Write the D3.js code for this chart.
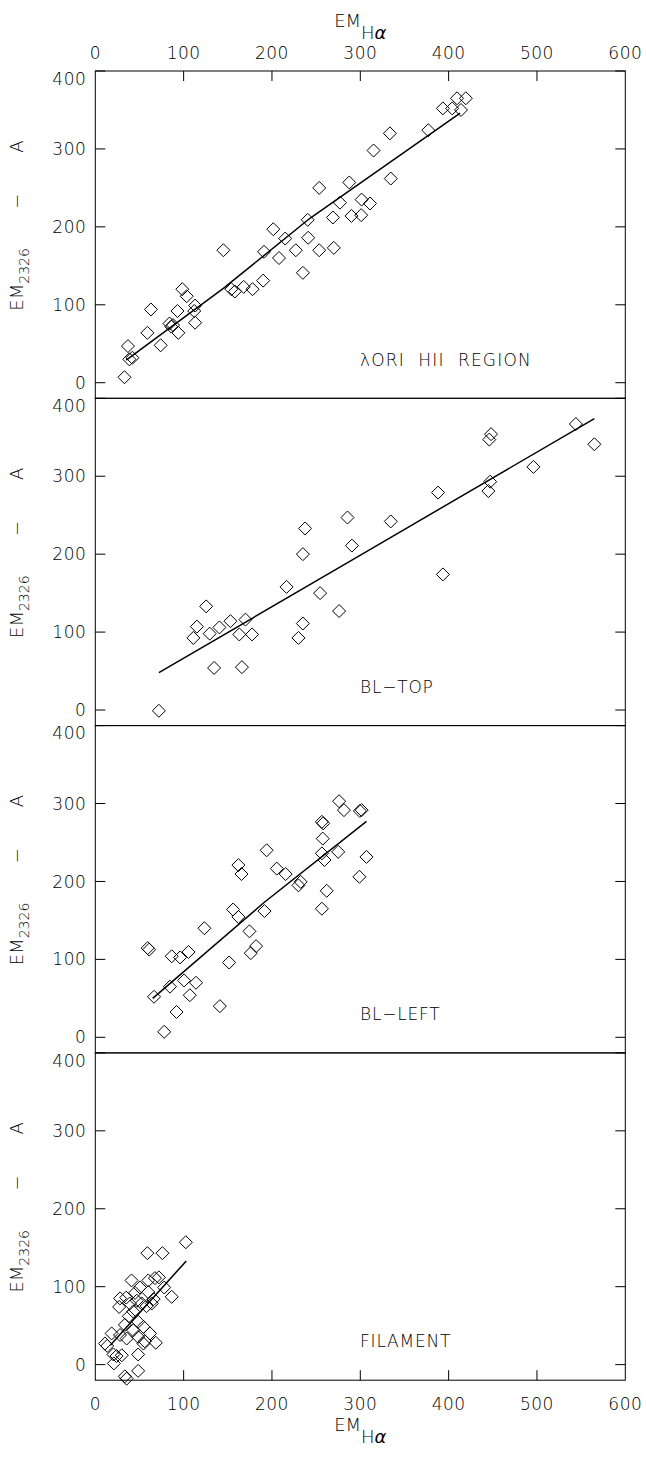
<!DOCTYPE html>
<html>
<head>
<meta charset="utf-8">
<script src="https://cdn.jsdelivr.net/npm/d3@7"></script>
<style>
body{margin:0;background:#fff;}
svg text{font-family:"DejaVu Sans",sans-serif;font-weight:200;fill:#000;white-space:pre;}
</style>
</head>
<body>
<div id="chart"></div>
<script>
// tick values
var xTicks=[0,100,200,300,400,500,600];
var yTicks=[0,100,200,300,400];

// panel labels
var panelNames=["\u03bbORI  HII  REGION","BL\u2212TOP","BL\u2212LEFT","FILAMENT"];

// lambda Ori HII region
var oriX=[33,37,38.5,42,59,63,74,84,86,88,93,94,98.5,103.5,113,112,113,145,154,158,168,178,190,191,201.5,208,215,227,235,240.5,241,253.5,253.5,269,270,277,287.5,290,301,301.5,311,315,333.5,334.5,377,393.5,404,409.5,414,419.5];
var oriY=[7,47,30,32,64,94,48,76,72,74,92,64,120,111,99,92,77,170,120,117,123,120,131,168,197,160,185,170,141,209,186,250,170,212,173,231,257,214,215,235,230,298,320,262,324,352,352,365,350,365];

// BL-TOP
var topX=[72,111,115,125.5,129.5,134.5,140.5,153,163,166,170,177.5,216.5,230,235,235,237.5,254.5,276,285.5,290.5,334.5,388,393.5,445,447,446,448,496,544,565];
var topY=[-1,92.5,107,133,98,54,106,114,97,55,116,97,158,92.5,111,200,233,150,127,247,211,242,279,174,281,293,347,354,312,367,341];

// BL-LEFT
var leftX=[59.3,61,66.5,78,84.5,86.5,92,96,100.5,105.5,107,114,123.5,141,151.5,156,162,162,165.5,174.5,176,182,191.5,194,205.5,215.5,230,232.5,256.5,256.5,257.5,256.5,258,259.5,262,275,276,281.5,299,299.5,301.5,307];
var leftY=[114.5,112.5,52,7,65,104,32.5,102.5,73,109.5,54,70,140,40,96,164,154.5,221,209.5,136,108,117,162,240,216.5,209.5,195,199.5,165,236,255,276.5,274.5,227.5,188,238,303,291.5,206,290.5,291.5,231.5];

// filament
var filX=[102.5,59,76,41,60,67.5,50.5,78,60,86.5,28,35,27,39,47,52.5,58,64,43,48.5,33.5,54.5,43,62,18.5,28,35.5,48.5,68.5,54.5,11,13.5,48.5,20.5,24,30,21,48.5,33.5,35.5,72,38,56,66,45];
var filY=[157,143,143,108,108,111,99,99,93,87,85,86,74,78.5,82,78.5,75,78.5,68,55,51,48.5,44,40,40,38,33.5,35.5,28,27,27,24,13,13,11,12,1.5,-8,-15,-18,112,62,30,84,92];

// fit lines
var oriFitX=[35,145,243,413], oriFitY=[29,121,211,346];
var topFitX=[72,290,565], topFitY=[48,192,374];
var leftFitX=[65,190,307], leftFitY=[50,172,277];
var filFitX=[17,103], filFitY=[25,133];

var panels=[
    {name:panelNames[0],x:oriX,y:oriY,fx:oriFitX,fy:oriFitY,lx:360},
    {name:panelNames[1],x:topX,y:topY,fx:topFitX,fy:topFitY,lx:360},
    {name:panelNames[2],x:leftX,y:leftY,fx:leftFitX,fy:leftFitY,lx:360},
    {name:panelNames[3],x:filX,y:filY,fx:filFitX,fy:filFitY,lx:360}
];

var W=646,H=1457;
var margin={left:95.3,right:20.7,top:71};
var width=W-margin.left-margin.right;
var ph=327.3;

var svg=d3.select('#chart').append('svg')
    .attr('width',W)
    .attr('height',H);

var x=d3.scaleLinear().domain([0,600]).range([0,width]);
var y=d3.scaleLinear().domain([-20,400]).range([ph,0]);

var diamond="M0,-6.5L6.5,0L0,6.5L-6.5,0Z";

panels.forEach(function(p,i){
    var g=svg.append('g')
        .attr('transform','translate('+margin.left+','+(margin.top+i*ph)+')');

    // left and right ticks
    g.append('g').selectAll('line')
        .data(yTicks).enter().append('line')
        .attr('x1',0).attr('x2',10)
        .attr('y1',function(d){return y(d);}).attr('y2',function(d){return y(d);})
        .attr('stroke','#000');
    g.append('g').selectAll('line')
        .data(yTicks).enter().append('line')
        .attr('x1',width-10).attr('x2',width)
        .attr('y1',function(d){return y(d);}).attr('y2',function(d){return y(d);})
        .attr('stroke','#000');
    g.append('g').selectAll('text')
        .data(yTicks).enter().append('text')
        .attr('x',-9)
        .attr('y',function(d){return y(d)+(d===400?7.5:0);})
        .attr('dy','0.36em')
        .attr('text-anchor','end')
        .style('font-size','17px')
        .style('letter-spacing','0.5px')
        .text(function(d){return d;});

    // x ticks on the outer edges only
    if(i===0||i===panels.length-1){
        var yy=i===0?0:ph;
        var dir=i===0?1:-1;
        g.append('g').selectAll('line')
            .data(xTicks.slice(1,-1)).enter().append('line')
            .attr('x1',function(d){return x(d);}).attr('x2',function(d){return x(d);})
            .attr('y1',yy).attr('y2',yy+dir*10)
            .attr('stroke','#000');
        g.append('g').selectAll('text')
            .data(xTicks).enter().append('text')
            .attr('x',function(d){return x(d);})
            .attr('y',i===0?-12:ph+30)
            .attr('text-anchor','middle')
            .style('font-size','17px')
            .style('letter-spacing','0.5px')
            .text(function(d){return d;});
    }

    g.append('rect')
        .attr('width',width).attr('height',ph)
        .attr('fill','none').attr('stroke','#000');

    // y title, rotated
    var t=g.append('text')
        .attr('transform','translate('+(23-margin.left)+','+(ph/2+76)+') rotate(-90)')
        .style('font-size','18px');
    t.append('tspan').attr('x',0).text('EM');
    t.append('tspan').attr('dy',6).style('font-size','14px').text('2326');
    t.append('tspan').attr('x',102).attr('dy',-6).text('\u2212');
    t.append('tspan').attr('x',158).text('A');

    // fit line
    var fit=p.fx.map(function(d,k){return [d,p.fy[k]];});
    g.append('path')
        .datum(fit)
        .attr('d',d3.line().x(function(d){return x(d[0]);}).y(function(d){return y(d[1]);}))
        .attr('fill','none')
        .attr('stroke','#000')
        .attr('stroke-width',1.5);

    // points
    g.append('g').selectAll('path')
        .data(p.x.map(function(d,k){return [d,p.y[k]];}))
        .enter().append('path')
        .attr('d',diamond)
        .attr('transform',function(d){return 'translate('+x(d[0])+','+y(d[1])+')';})
        .attr('fill','none')
        .attr('stroke','#000');

    g.append('text')
        .attr('x',p.lx-margin.left)
        .attr('y',y(22))
        .style('font-size','17px')
        .style('letter-spacing',i===0?'1.2px':'0.8px')
        .text(p.name);
});

// x titles
function xTitle(yb){
    var t=svg.append('text')
        .attr('x',margin.left+x(300))
        .attr('y',yb)
        .attr('text-anchor','middle')
        .style('font-size','18px');
    t.append('tspan').text('EM');
    t.append('tspan').attr('dy',12).text('H');
    t.append('tspan').style('font-style','italic').text('\u03b1');
}
xTitle(27);
xTitle(1431);
</script>
</body>
</html>
